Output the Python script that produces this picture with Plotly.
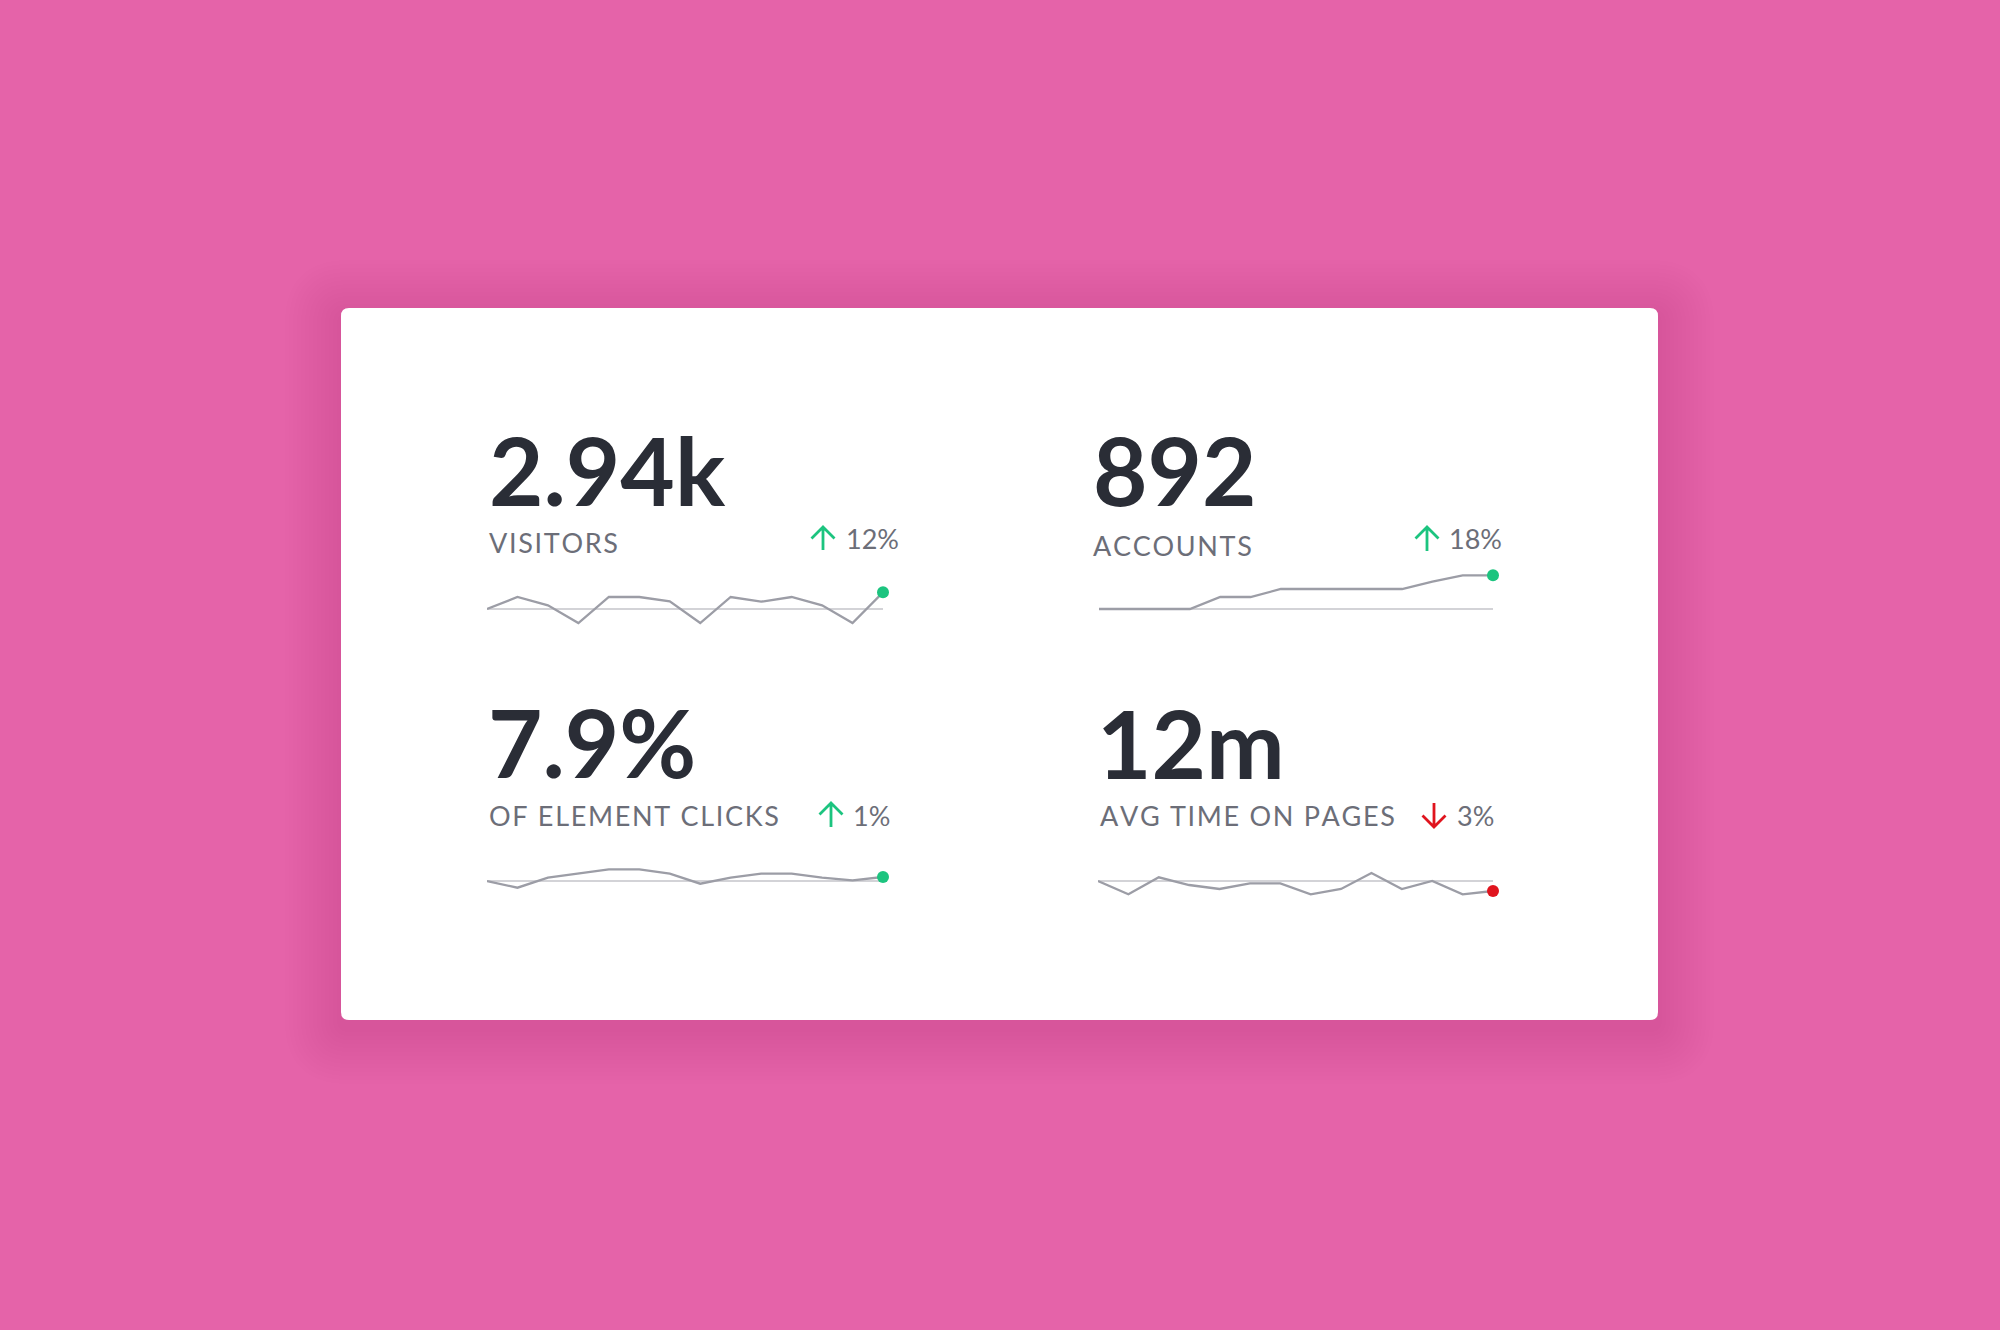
import plotly.graph_objects as go

W, H = 2000, 1330

# ---------------- data ----------------
kpi_values = ["2.94k", "892", "7.9%", "12m"]
kpi_labels = ["VISITORS", "ACCOUNTS", "OF ELEMENT CLICKS", "AVG TIME ON PAGES"]
kpi_changes = ["12%", "18%", "1%", "3%"]
kpi_direction = ["up", "up", "up", "down"]

visitors_trend = [0, 12, 3.7, -14, 12, 12, 7.7, -14, 12, 7.3, 12, 3.7, -14, 16.7]
accounts_trend = [0, 0, 0, 0, 12, 12, 20, 20, 20, 20, 20, 27.3, 33.7, 33.7]
clicks_trend = [0, -6.7, 3.3, 7.3, 11.7, 11.7, 7.3, -2.7, 3.3, 7.3, 7.3, 3.3, 0.7, 4]
avgtime_trend = [0, -13.3, 3.7, -4, -8, -2.3, -2.3, -13.3, -8, 8, -8, 0, -13.3, -10]
trends = [visitors_trend, accounts_trend, clicks_trend, avgtime_trend]

# ---------------- style / layout ----------------
BG = "#e563a9"
NUM_COLOR = "#2a2d36"
LABEL_COLOR = "#6c6e78"
LINE_COLOR = "#9c9da6"
BASE_COLOR = "#d3d3d7"
UP = "#1cc47f"
DOWN = "#e0141e"
FONT = "Lato"

def px(x):
    return x / W

def py(y):
    return 1 - y / H

# per-panel pixel positions
panels = [
    dict(num=(488, 469), lab=(488, 542), arr=(823, 527, 550), pct=(845, 538),
         spark=(487, 883, 609)),
    dict(num=(1092, 469), lab=(1092, 545), arr=(1427, 527, 551), pct=(1448, 538),
         spark=(1099, 1493, 609)),
    dict(num=(487, 741), lab=(488, 815), arr=(831, 803, 827), pct=(852, 815),
         spark=(487, 883, 881)),
    dict(num=(1096, 742), lab=(1099, 815), arr=(1434, 803, 827), pct=(1456, 815),
         spark=(1098, 1493, 881)),
]

def spaced(s, sp="\u200a"):
    return sp.join(list(s))

fig = go.Figure()
shapes = []
annotations = []

def rrect(x0, y0, x1, y1, r):
    X0, X1 = px(x0), px(x1)
    Y0, Y1 = py(y0), py(y1)
    rx, ry = r / W, r / H
    return (f"M {X0+rx},{Y0} L {X1-rx},{Y0} Q {X1},{Y0} {X1},{Y0-ry} "
            f"L {X1},{Y1+ry} Q {X1},{Y1} {X1-rx},{Y1} L {X0+rx},{Y1} "
            f"Q {X0},{Y1} {X0},{Y1+ry} L {X0},{Y0-ry} Q {X0},{Y0} {X0+rx},{Y0} Z")

# soft card shadow
for spread in range(56, 0, -4):
    shapes.append(dict(type="path", xref="paper", yref="paper",
                       path=rrect(341 - spread, 308 - spread + 8, 1658 + spread, 1020 + spread + 8, 8 + spread),
                       fillcolor="rgba(110,20,70,0.007)", line=dict(width=0), layer="below"))

shapes.append(dict(type="path", xref="paper", yref="paper",
                   path=rrect(341, 308, 1658, 1020, 8),
                   fillcolor="#ffffff", line=dict(width=0), layer="below"))

for i, p in enumerate(panels):
    n = i + 1
    xa = "xaxis" if n == 1 else f"xaxis{n}"
    ya = "yaxis" if n == 1 else f"yaxis{n}"
    xr = "x" if n == 1 else f"x{n}"
    yr = "y" if n == 1 else f"y{n}"
    x0, x1, base = p["spark"]
    npts = len(trends[i])
    fig.update_layout(**{
        xa: dict(domain=[px(x0), px(x1)], range=[0, npts - 1], visible=False,
                 anchor=yr, fixedrange=True),
        ya: dict(domain=[py(base + 40), py(base - 40)], range=[-40, 40], visible=False,
                 anchor=xr, fixedrange=True),
    })
    ext = (npts - 1) * (1 + 4 / (x1 - x0))
    fig.add_trace(go.Scatter(x=[0, ext], y=[trends[i][0], trends[i][0]], mode="lines",
                             line=dict(color=BASE_COLOR, width=1.8), xaxis=xr, yaxis=yr,
                             hoverinfo="skip", showlegend=False, cliponaxis=False))
    fig.add_trace(go.Scatter(x=list(range(npts)), y=trends[i], mode="lines",
                             line=dict(color=LINE_COLOR, width=2.3), xaxis=xr, yaxis=yr,
                             showlegend=False, cliponaxis=False))
    col = UP if kpi_direction[i] == "up" else DOWN
    fig.add_trace(go.Scatter(x=[npts - 1], y=[trends[i][-1]], mode="markers",
                             marker=dict(color=col, size=12), xaxis=xr, yaxis=yr,
                             showlegend=False, cliponaxis=False))

    # big number
    annotations.append(dict(x=px(p["num"][0]), y=py(p["num"][1]), xref="paper", yref="paper",
                            text=f"<b>{kpi_values[i]}</b>", showarrow=False,
                            xanchor="left", yanchor="middle", borderpad=0,
                            font=dict(family=FONT, size=94, color=NUM_COLOR, weight=700)))
    # label
    annotations.append(dict(x=px(p["lab"][0]), y=py(p["lab"][1]), xref="paper", yref="paper",
                            text=spaced(kpi_labels[i]), showarrow=False,
                            xanchor="left", yanchor="middle", borderpad=0,
                            font=dict(family=FONT, size=27, color=LABEL_COLOR)))
    # pct
    annotations.append(dict(x=px(p["pct"][0]), y=py(p["pct"][1]), xref="paper", yref="paper",
                            text=kpi_changes[i], showarrow=False,
                            xanchor="left", yanchor="middle", borderpad=0,
                            font=dict(family=FONT, size=27, color=LABEL_COLOR)))
    # arrow icon
    cx, t, b = p["arr"]
    hw, hh = 11.5, 11.5
    if kpi_direction[i] == "up":
        path = (f"M {px(cx)},{py(b)} L {px(cx)},{py(t+1)} "
                f"M {px(cx-hw)},{py(t+hh)} L {px(cx)},{py(t)} L {px(cx+hw)},{py(t+hh)}")
    else:
        path = (f"M {px(cx)},{py(t)} L {px(cx)},{py(b-1)} "
                f"M {px(cx-hw)},{py(b-hh)} L {px(cx)},{py(b)} L {px(cx+hw)},{py(b-hh)}")
    shapes.append(dict(type="path", xref="paper", yref="paper", path=path,
                       line=dict(color=col, width=2.8)))

fig.update_layout(width=W, height=H, margin=dict(l=0, r=0, t=0, b=0),
                  paper_bgcolor=BG, plot_bgcolor="rgba(0,0,0,0)",
                  shapes=shapes, annotations=annotations, showlegend=False,
                  font=dict(family=FONT))

fig.write_html("out.html", config=dict(displayModeBar=False),
               post_script="document.body.style.margin='0';document.body.style.overflow='hidden';"
                           "document.documentElement.style.background='" + BG + "';")
